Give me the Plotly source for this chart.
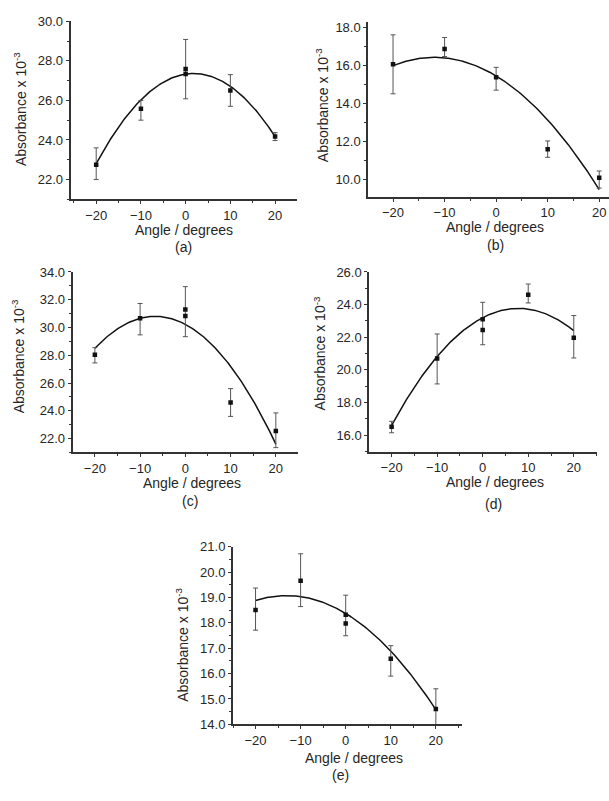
import numpy as np
import plotly.graph_objects as go

W, H = 609, 801

# ---------------- data ----------------
x_ticks = [-20, -10, 0, 10, 20]

a_x = [-20, -10, 0, 0, 10, 20]
a_y = [22.75, 25.58, 27.58, 27.33, 26.5, 24.17]
a_err_x = [-20, -10, 0, 10, 20]
a_err_y = [22.8, 25.5, 27.58, 26.5, 24.17]
a_err = [0.8, 0.5, 1.5, 0.8, 0.2]
a_fit = [27.33, 0.03425, -0.00961]

b_x = [-20, -10, 0, 10, 20]
b_y = [16.07, 16.87, 15.38, 11.6, 10.1]
b_err_x = [-20, -10, 0, 10, 20]
b_err_y = [16.06, 16.97, 15.3, 11.6, 10.0]
b_err = [1.55, 0.5, 0.6, 0.43, 0.45]
b_fit = [15.45, -0.163, -0.0068]

c_x = [-20, -10, 0, 0, 10, 20]
c_y = [28.04, 30.66, 31.29, 30.82, 24.6, 22.55]
c_err_x = [-20, -10, 0, 10, 20]
c_err_y = [28.0, 30.6, 31.14, 24.6, 22.6]
c_err = [0.55, 1.13, 1.8, 1.0, 1.25]
c_fit = [30.23, -0.1725, -0.01295]

d_x = [-20, -10, 0, 0, 10, 20]
d_y = [16.52, 20.69, 23.1, 22.44, 24.6, 21.97]
d_err_x = [-20, -10, 0, 10, 20]
d_err_y = [16.5, 20.67, 22.84, 24.68, 22.03]
d_err = [0.35, 1.53, 1.3, 0.58, 1.3]
d_fit = [23.2, 0.145, -0.00925]

e_x = [-20, -10, 0, 0, 10, 20]
e_y = [18.51, 19.66, 18.32, 17.97, 16.58, 14.6]
e_err_x = [-20, -10, 0, 10, 20]
e_err_y = [18.54, 19.68, 18.29, 16.5, 14.6]
e_err = [0.83, 1.04, 0.8, 0.6, 0.8]
e_fit = [18.37, -0.1075, -0.0041]

panel_labels = ["(a)", "(b)", "(c)", "(d)", "(e)"]
x_title = "Angle / degrees"
y_title = "Absorbance x 10<sup>-3</sup>"

# ---------------- layout (pixel boxes) ----------------
panels = [
    dict(x=a_x, y=a_y, ex=a_err_x, ey=a_err_y, ee=a_err, fit=a_fit,
         box=(70.7, 297, 14.5, 196), xr=[-25.7, 24.9], yr=[21, 30], dt=2, mdt=1,
         ylab=(20, 104), xlab=(184, 227), plab=(183, 245)),
    dict(x=b_x, y=b_y, ex=b_err_x, ey=b_err_y, ee=b_err, fit=b_fit,
         box=(368.3, 609, 15, 193.3), xr=[-24.8, 21.9], yr=[9.1, 18.3], dt=2, mdt=1,
         ylab=(322, 100), xlab=(495, 224), plab=(495, 243)),
    dict(x=c_x, y=c_y, ex=c_err_x, ey=c_err_y, ee=c_err, fit=c_fit,
         box=(72.7, 298, 270, 454), xr=[-24.9, 24.9], yr=[21, 34], dt=2, mdt=1,
         ylab=(18, 356), xlab=(192, 485), plab=(190, 503)),
    dict(x=d_x, y=d_y, ex=d_err_x, ey=d_err_y, ee=d_err, fit=d_fit,
         box=(369.3, 597, 270, 453), xr=[-24.9, 25.1], yr=[15, 26], dt=2, mdt=1,
         ylab=(320, 353), xlab=(495, 484), plab=(493, 506)),
    dict(x=e_x, y=e_y, ex=e_err_x, ey=e_err_y, ee=e_err, fit=e_fit,
         box=(233, 462, 550, 731), xr=[-25.0, 25.8], yr=[14, 21], dt=1, mdt=0.5,
         ylab=(182, 650), xlab=(354, 765), plab=(340, 783)),
]

FONT = "Liberation Sans, Arial, sans-serif"
TXT = "#262626"
AX = "#333333"

fig = go.Figure()
layout = dict(width=W, height=H, margin=dict(l=0, r=0, t=0, b=0),
              autosize=False, paper_bgcolor="white", plot_bgcolor="white",
              showlegend=False, font=dict(family=FONT, color=TXT, size=13))
annotations = []

for i, p in enumerate(panels):
    n = "" if i == 0 else str(i + 1)
    xa, ya = "x" + n, "y" + n
    L, R, T, B = p["box"]
    c0, c1, c2 = p["fit"]
    xs = np.linspace(-20, 20, 161)
    ys = c0 + c1 * xs + c2 * xs ** 2
    fig.add_trace(go.Scatter(x=xs, y=ys, mode="lines", xaxis=xa, yaxis=ya,
                             line=dict(color="#111111", width=1.5), hoverinfo="skip"))
    fig.add_trace(go.Scatter(x=p["ex"], y=p["ey"], mode="markers", xaxis=xa, yaxis=ya,
                             marker=dict(size=1, color="rgba(0,0,0,0)"),
                             error_y=dict(type="data", array=p["ee"], visible=True,
                                          color="#555555", thickness=1, width=2.5)))
    fig.add_trace(go.Scatter(x=p["x"], y=p["y"], mode="markers", xaxis=xa, yaxis=ya,
                             marker=dict(symbol="square", size=4.5, color="#111111")))
    axcommon = dict(showline=True, linewidth=2, linecolor=AX, showgrid=False,
                    zeroline=False, ticks="outside", ticklen=3, tickwidth=1.2,
                    tickcolor=AX, tickfont=dict(family=FONT, size=13, color=TXT))
    layout["xaxis" + n] = dict(axcommon, domain=[L / W, R / W], anchor=ya,
                               range=p["xr"], tickvals=x_ticks,
                               minor=dict(dtick=5, tick0=0, ticks="outside",
                                          ticklen=2, tickcolor=AX))
    layout["yaxis" + n] = dict(axcommon, domain=[1 - B / H, 1 - T / H], anchor=xa,
                               range=p["yr"], dtick=p["dt"], tick0=0, tickformat=".1f",
                               minor=dict(dtick=p["mdt"], tick0=0, ticks="outside",
                                          ticklen=2, tickcolor=AX))
    annotations.append(dict(text=y_title, x=p["ylab"][0] / W, y=1 - p["ylab"][1] / H,
                            xref="paper", yref="paper", showarrow=False, textangle=-90,
                            xanchor="center", yanchor="middle",
                            font=dict(family=FONT, size=14, color=TXT)))
    annotations.append(dict(text=x_title, x=p["xlab"][0] / W, y=1 - p["xlab"][1] / H,
                            xref="paper", yref="paper", showarrow=False,
                            xanchor="center", yanchor="middle",
                            font=dict(family=FONT, size=14, color=TXT)))
    annotations.append(dict(text=panel_labels[i], x=p["plab"][0] / W, y=1 - p["plab"][1] / H,
                            xref="paper", yref="paper", showarrow=False,
                            xanchor="center", yanchor="middle",
                            font=dict(family=FONT, size=14, color=TXT)))

layout["annotations"] = annotations
fig.update_layout(**layout)
fig.write_html("out.html", config={"displayModeBar": False},
               post_script="document.body.style.margin='0';document.body.style.padding='0';"
                           "document.documentElement.style.overflow='hidden';")
